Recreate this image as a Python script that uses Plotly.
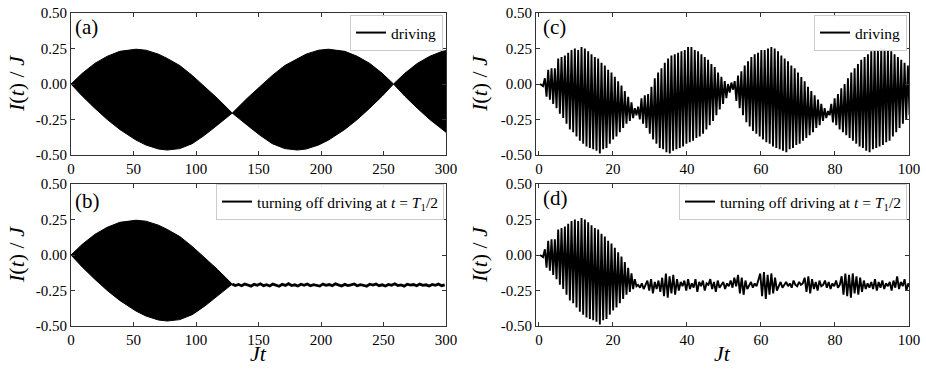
import plotly.graph_objects as go

W, H = 926, 369


def px_x(px):
    return px / W


def px_y(py):
    return 1 - py / H


# ---- panels (a)/(b): envelope of the fast oscillation
env_t = [0, 9, 19, 29, 39, 52, 60, 70, 77, 87, 97, 107, 117, 129,
         141, 151, 161, 171, 181, 188, 198, 206, 219, 229, 239, 249, 258,
         267, 277, 287, 297, 300]
env_hi = [0.0, 0.075, 0.145, 0.195, 0.23, 0.245, 0.238, 0.21, 0.18, 0.13, 0.06, -0.02, -0.10, -0.205,
          -0.10, -0.02, 0.06, 0.13, 0.18, 0.21, 0.238, 0.245, 0.23, 0.195, 0.145, 0.075, 0.0,
          0.075, 0.145, 0.195, 0.23, 0.235]
env_lo = [0.0, -0.085, -0.17, -0.25, -0.32, -0.395, -0.43, -0.458, -0.465, -0.455, -0.42, -0.36, -0.29, -0.205,
          -0.29, -0.36, -0.42, -0.455, -0.465, -0.458, -0.43, -0.395, -0.32, -0.25, -0.17, -0.085, 0.0,
          -0.085, -0.17, -0.25, -0.32, -0.34]
b_cut = 14  # driving switched off at Jt ~ 129

# (b) after switching off: small wiggle around -0.21, every 2.5 in Jt
b_tail_t0, b_tail_dt = 129, 2.5
b_tail = [-0.205, -0.215, -0.208, -0.217, -0.204, -0.212, -0.219, -0.206, -0.213, -0.203,
          -0.216, -0.209, -0.218, -0.205, -0.211, -0.220, -0.207, -0.214, -0.202, -0.215,
          -0.210, -0.218, -0.206, -0.213, -0.204, -0.217, -0.209, -0.212, -0.219, -0.205,
          -0.214, -0.208, -0.216, -0.203, -0.212, -0.218, -0.207, -0.215, -0.210, -0.204,
          -0.217, -0.209, -0.213, -0.220, -0.206, -0.212, -0.205, -0.216, -0.210, -0.218,
          -0.207, -0.213, -0.203, -0.215, -0.211, -0.219, -0.206, -0.212, -0.208, -0.217,
          -0.205, -0.214, -0.210, -0.218, -0.207, -0.213, -0.204, -0.216, -0.211]

# ---- panels (c)/(d): peak / trough of each fast cycle (period ~0.9)
c_lead_t = [0.3, 1.1]
c_lead = [0.0, -0.015]
c_t0, c_period = 1.6, 0.9
c_hi = [0.04, 0.10, 0.11, 0.11, 0.18, 0.19, 0.20, 0.22, 0.24, 0.25, 0.24, 0.26, 0.25, 0.23,
        0.21, 0.19, 0.18, 0.15, 0.13, 0.10, 0.08, 0.05, 0.02, -0.01, -0.05, -0.09, -0.13, -0.17,
        -0.16, -0.10, -0.08, -0.07, -0.02, 0.04, 0.08, 0.11, 0.15, 0.18, 0.20, 0.21, 0.22, 0.23,
        0.24, 0.26, 0.26, 0.24, 0.23, 0.21, 0.19, 0.17, 0.14, 0.12, 0.08, 0.05, 0.02, 0.00, 0.01,
        0.02, 0.06, 0.09, 0.13, 0.16, 0.19, 0.21, 0.22, 0.24, 0.24, 0.25, 0.26, 0.25, 0.23, 0.20,
        0.18, 0.16, 0.13, 0.11, 0.08, 0.05, 0.02, -0.02, -0.05, -0.08, -0.11, -0.14, -0.17, -0.19,
        -0.14, -0.10, -0.07, -0.03, 0.00, 0.04, 0.08, 0.11, 0.14, 0.17, 0.19, 0.21, 0.23, 0.24,
        0.24, 0.25, 0.25, 0.24, 0.23, 0.21, 0.19, 0.17, 0.15, 0.13]
c_lo = [-0.09, -0.11, -0.14, -0.17, -0.21, -0.24, -0.28, -0.32, -0.34, -0.37, -0.40, -0.42, -0.44, -0.45,
        -0.46, -0.47, -0.49, -0.46, -0.45, -0.42, -0.39, -0.37, -0.34, -0.31, -0.28, -0.26, -0.24, -0.22,
        -0.25, -0.28, -0.31, -0.35, -0.39, -0.42, -0.45, -0.46, -0.48, -0.49, -0.47, -0.46, -0.45, -0.44,
        -0.42, -0.41, -0.40, -0.38, -0.37, -0.35, -0.32, -0.29, -0.26, -0.22, -0.18, -0.14, -0.10, -0.06,
        -0.04,
        -0.12, -0.17, -0.22, -0.27, -0.30, -0.33, -0.35, -0.37, -0.39, -0.41, -0.42, -0.44, -0.45, -0.46,
        -0.47, -0.48, -0.46, -0.45, -0.43, -0.42, -0.40, -0.38, -0.36, -0.34, -0.31, -0.29, -0.26, -0.24,
        -0.22,
        -0.27, -0.29, -0.32, -0.34, -0.36, -0.38, -0.40, -0.42, -0.44, -0.45, -0.47, -0.48, -0.46, -0.45,
        -0.44, -0.43, -0.41, -0.40, -0.37, -0.34, -0.31, -0.28, -0.25, -0.22]
d_cut = 28  # cycles before driving is turned off (Jt ~ 26)

# (d) after switching off, every 0.5 in Jt
d_tail_t0, d_tail_dt = 26.8, 0.5
d_tail = [-0.21, -0.23, -0.20, -0.24, -0.21,
          -0.18, -0.25, -0.17, -0.27, -0.19, -0.24, -0.18, -0.26,
          -0.16, -0.29, -0.13, -0.30, -0.15, -0.27, -0.14, -0.28, -0.17, -0.25, -0.19,
          -0.22, -0.18, -0.25, -0.17, -0.24, -0.20, -0.23, -0.17, -0.26, -0.19, -0.22, -0.18, -0.25, -0.20,
          -0.21, -0.17, -0.24, -0.19, -0.26, -0.18, -0.23, -0.21, -0.19, -0.24,
          -0.20, -0.22, -0.18, -0.23, -0.16, -0.22,
          -0.14, -0.27, -0.16, -0.28, -0.18, -0.24,
          -0.21, -0.19, -0.23, -0.20, -0.22, -0.18,
          -0.13, -0.29, -0.12, -0.31, -0.14, -0.28, -0.13, -0.27, -0.16, -0.25,
          -0.22, -0.19, -0.23, -0.21, -0.19, -0.22, -0.20, -0.23, -0.18, -0.21, -0.22, -0.19, -0.21, -0.20,
          -0.16, -0.26, -0.15, -0.27, -0.17, -0.24, -0.19, -0.25, -0.18, -0.22,
          -0.21, -0.18, -0.23, -0.19, -0.24, -0.20, -0.22, -0.18, -0.23, -0.21,
          -0.15, -0.28, -0.13, -0.29, -0.14, -0.30, -0.13, -0.27, -0.15, -0.28, -0.16, -0.26, -0.18, -0.24, -0.20, -0.23,
          -0.19, -0.24, -0.17, -0.25, -0.19, -0.23, -0.18, -0.24, -0.20, -0.22, -0.19, -0.25, -0.18, -0.23,
          -0.15, -0.24, -0.19, -0.22, -0.17, -0.25, -0.20, -0.23, -0.19]

y_ticks = [-0.5, -0.25, 0.0, 0.25, 0.5]
y_ticktext = ["-0.50", "-0.25", "0.00", "0.25", "0.50"]
ax_ticks_ab = [0, 50, 100, 150, 200, 250, 300]
ax_ticks_cd = [0, 20, 40, 60, 80, 100]

SERIF = "Liberation Serif, Times New Roman, serif"
LEG_OFF = "turning off driving at <i>t</i> = <i>T</i><sub>1</sub>/2"


def zigzag(n):
    xs, ys = list(c_lead_t), list(c_lead)
    for k in range(n):
        xs += [c_t0 + k * c_period, c_t0 + (k + 0.5) * c_period]
        ys += [c_hi[k], c_lo[k]]
    return xs, ys


def legend_line(name, legend, ax):
    # empty trace, only to get a plain line sample in the legend box
    return go.Scatter(x=[None], y=[None], mode="lines", line=dict(color="black", width=2),
                      name=name, legend=legend, xaxis="x" + ax, yaxis="y" + ax)


fig = go.Figure()

# (a) dense oscillation -> filled envelope
fig.add_trace(go.Scatter(x=env_t + env_t[::-1], y=env_hi + env_lo[::-1], fill="toself",
                         fillcolor="black", mode="lines", line=dict(color="black", width=1),
                         showlegend=False, xaxis="x", yaxis="y"))
fig.add_trace(legend_line("driving", "legend", ""))

# (b)
bt = env_t[:b_cut]
fig.add_trace(go.Scatter(x=bt + bt[::-1], y=env_hi[:b_cut] + env_lo[:b_cut][::-1], fill="toself",
                         fillcolor="black", mode="lines", line=dict(color="black", width=1),
                         showlegend=False, xaxis="x2", yaxis="y2"))
fig.add_trace(go.Scatter(x=[b_tail_t0 + i * b_tail_dt for i in range(len(b_tail))], y=b_tail,
                         mode="lines", line=dict(color="black", width=2.8),
                         showlegend=False, xaxis="x2", yaxis="y2"))
fig.add_trace(legend_line(LEG_OFF, "legend2", "2"))

# (c)
cx, cy = zigzag(len(c_hi))
fig.add_trace(go.Scatter(x=cx, y=cy, mode="lines", line=dict(color="black", width=1.9),
                         showlegend=False, xaxis="x3", yaxis="y3"))
fig.add_trace(legend_line("driving", "legend3", "3"))

# (d)
dx, dy = zigzag(d_cut)
dx += [d_tail_t0 + i * d_tail_dt for i in range(len(d_tail))]
dy += d_tail
fig.add_trace(go.Scatter(x=dx, y=dy, mode="lines", line=dict(color="black", width=1.9),
                         showlegend=False, xaxis="x4", yaxis="y4"))
fig.add_trace(legend_line(LEG_OFF, "legend4", "4"))

# panel boxes in window pixels: (x0, x1, ytop, ybottom)
boxes = {"": (71, 446, 13, 155), "2": (71, 446, 184, 326),
         "3": (536, 909, 13, 155), "4": (536, 909, 184, 326)}
xranges = {"": [0, 300], "2": [0, 300], "3": [-0.8, 100], "4": [-0.8, 100]}

axis_common = dict(showline=True, linecolor="#333333", linewidth=1, mirror="allticks",
                   ticks="inside", ticklen=4, tickcolor="#333333", showgrid=False,
                   zeroline=False, automargin=False, ticklabeloverflow="allow",
                   tickfont=dict(family=SERIF, size=15, color="black"))

layout = {}
for key, (x0, x1, yt, yb) in boxes.items():
    ticks = ax_ticks_ab if key in ("", "2") else ax_ticks_cd
    layout["xaxis" + key] = dict(domain=[px_x(x0), px_x(x1)], anchor="y" + key, range=xranges[key],
                                 tickvals=ticks, **axis_common)
    layout["yaxis" + key] = dict(domain=[px_y(yb), px_y(yt)], anchor="x" + key, range=[-0.5, 0.5],
                                 tickvals=y_ticks, ticktext=y_ticktext, **axis_common)

legend_common = dict(xanchor="right", yanchor="top", bgcolor="rgba(255,255,255,0.9)",
                     bordercolor="#cccccc", borderwidth=1, itemwidth=30,
                     font=dict(family=SERIF, size=15.5, color="black"))
layout["legend"] = dict(x=px_x(443), y=px_y(15), **legend_common)
layout["legend2"] = dict(x=px_x(444), y=px_y(184), **legend_common)
layout["legend3"] = dict(x=px_x(907), y=px_y(15), **legend_common)
layout["legend4"] = dict(x=px_x(907), y=px_y(184), **legend_common)

annotations = []
for text, px, py in [("(a)", 73, 27), ("(b)", 73, 201), ("(c)", 541, 27), ("(d)", 541, 198)]:
    annotations.append(dict(text=text, x=px_x(px), y=px_y(py), xref="paper", yref="paper",
                            xanchor="left", yanchor="middle", showarrow=False,
                            font=dict(family=SERIF, size=21, color="black")))
for px, py in [(16, 84), (16, 255), (479, 84), (479, 255)]:
    annotations.append(dict(text="<i>I</i>(<i>t</i>) / <i>J</i>", x=px_x(px), y=px_y(py),
                            xref="paper", yref="paper", textangle=-90, showarrow=False,
                            xanchor="center", yanchor="middle",
                            font=dict(family=SERIF, size=22, color="black")))
for px in (258, 722):
    annotations.append(dict(text="<i>Jt</i>", x=px_x(px), y=px_y(353), xref="paper", yref="paper",
                            xanchor="center", yanchor="middle", showarrow=False,
                            font=dict(family=SERIF, size=22, color="black")))

fig.update_layout(width=W, height=H, margin=dict(l=0, r=0, t=0, b=0, autoexpand=False),
                  paper_bgcolor="white", plot_bgcolor="white",
                  annotations=annotations, **layout)

# drop the page's default 8px body margin so the figure sits at the window corner
fig.write_html("out.html", config={"displayModeBar": False},
               post_script="document.body.style.margin = '0';")
